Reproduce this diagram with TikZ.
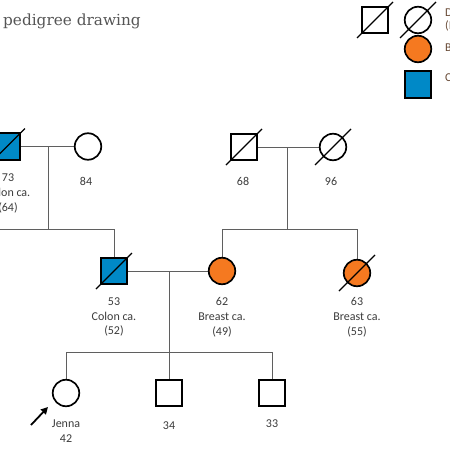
\documentclass[tikz,border=0pt]{standalone}
\usepackage{fontspec}
\setmainfont{Carlito}
\newfontfamily\titlefont{DejaVu Serif}
\usetikzlibrary{calc,arrows.meta}
\definecolor{orng}{RGB}{245,121,32}
\definecolor{blu}{RGB}{0,137,199}
\definecolor{connc}{RGB}{95,95,95}
\definecolor{labc}{RGB}{60,60,60}
\definecolor{titlec}{RGB}{85,85,85}
\definecolor{legc}{RGB}{105,75,55}
\newcommand\deceased[1]{\draw[slashline] ($(#1)+(-18pt,-18pt)$) -- ($(#1)+(18pt,18pt)$);}
\begin{document}
\begin{tikzpicture}[x=1pt,y=-1pt,
  male/.style={draw, rectangle, line width=1.7pt, minimum size=26.5pt, inner sep=0pt},
  female/.style={draw, circle, line width=1.7pt, minimum size=26.5pt, inner sep=0pt},
  conn/.style={draw=connc, line width=0.9pt},
  slashline/.style={line width=1.1pt},
  lbl/.style={font=\fontsize{12}{14.8}\selectfont, text=labc, align=center, inner sep=0pt},
  legtxt/.style={font=\fontsize{12}{14}\selectfont, text=legc, anchor=west, inner sep=0pt}]
\useasboundingbox (0,0) rectangle (450,450);
\clip (0,0) rectangle (450,450);
\fill[white] (0,0) rectangle (450,450);

% title
\node[anchor=west, inner sep=0pt, font=\titlefont\fontsize{15.3}{18}\selectfont, text=titlec] (title) at (3,21) {pedigree drawing};

% coordinates for connectors
\coordinate (m1) at (48,146.5);
\coordinate (s1) at (48,229);
\coordinate (s1l) at (-5,229);
\coordinate (s1r) at (114,229);
\coordinate (m2) at (287,147);
\coordinate (s2) at (287,229);
\coordinate (s2l) at (222,229);
\coordinate (s2r) at (357,229);
\coordinate (m3) at (169,271);
\coordinate (s3l) at (66,352);
\coordinate (s3r) at (272,352);

% connectors
\draw[conn] (7,146.5) -- (88,146.5);
\draw[conn] (m1) -- (s1);
\draw[conn] (s1l) -- (s1r) -- (114,271);
\draw[conn] (244,147) -- (333,147);
\draw[conn] (m2) -- (s2);
\draw[conn] (222,271) -- (s2l) -- (s2r) -- (357,273);
\draw[conn] (114,271) -- (222,271);
\draw[conn] (m3) -- (169,393);
\draw[conn] (66,393) -- (s3l) -- (s3r) -- (272,393);

% generation I
\node[male, fill=blu] (g1a) at (7,146.5) {};
\node[female, fill=white] (g1b) at (88,146.5) {};
\node[male, fill=white] (g1c) at (244,147) {};
\node[female, fill=white] (g1d) at (333,147) {};
\deceased{g1a}
\deceased{g1c}
\deceased{g1d}

% generation II
\node[male, fill=blu] (g2a) at (114,271) {};
\node[female, fill=orng] (g2b) at (222,271) {};
\node[female, fill=orng] (g2c) at (357,273) {};
\deceased{g2a}
\deceased{g2c}

% generation III
\node[female, fill=white] (jenna) at (66,393) {};
\node[male, fill=white] (s34) at (169,393) {};
\node[male, fill=white] (s33) at (272,393) {};

% proband arrow
\coordinate (arrS) at (31,425);
\coordinate (arrE) at (48,407);
\draw[line width=1.8pt, -{Triangle[length=7pt,width=7pt]}] (arrS) -- (arrE);

% labels
\node[lbl] (t73) at (8,193.5) {73\\Colon ca.\\(64)};
\node[lbl] (t84) at (86,181) {84};
\node[lbl] (t68) at (243,181) {68};
\node[lbl] (t96) at (331,181) {96};
\node[lbl] (t53) at (114,317) {53\\Colon ca.\\(52)};
\node[lbl] (t62) at (222,317) {62\\Breast ca.\\(49)};
\node[lbl] (t63) at (357,317) {63\\Breast ca.\\(55)};
\node[lbl] (tj) at (66,431) {Jenna\\42};
\node[lbl] (t34) at (169,426) {34};
\node[lbl] (t33) at (272,424) {33};

% legend
\node[male, fill=white] (lg1) at (375,20) {};
\node[female, fill=white] (lg2) at (418,20) {};
\node[female, fill=orng] (lg3) at (418,49) {};
\node[male, fill=blu] (lg4) at (418,84.5) {};
\deceased{lg1}
\deceased{lg2}
\node[legtxt] (lt1) at (445,13) {D};
\node[legtxt] (lt2) at (445,26) {(I};
\node[legtxt] (lt3) at (445,48) {B};
\node[legtxt] (lt4) at (445,78) {C};
\end{tikzpicture}
\end{document}
